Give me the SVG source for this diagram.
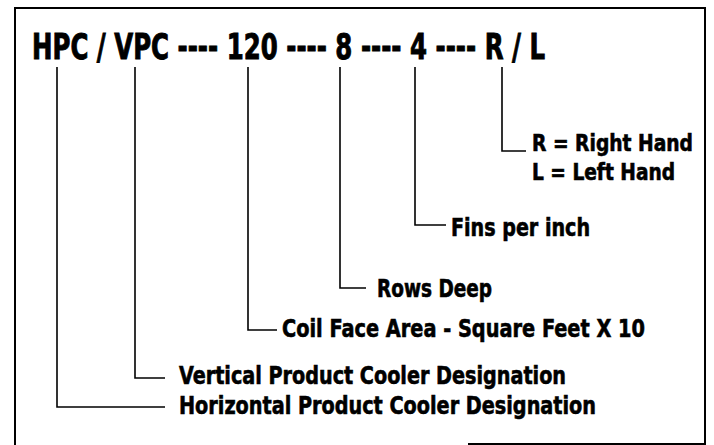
<svg xmlns="http://www.w3.org/2000/svg" width="714" height="445" viewBox="0 0 714 445">
<style>
.t{font-family:"Liberation Sans Narrow","DejaVu Sans Condensed","Liberation Sans",sans-serif;font-weight:bold;fill:#000;stroke:#000}
.lbl{font-size:25px;stroke-width:0.6}
.sm{font-size:23px}
.ttl{font-size:35px;stroke-width:0.9}
.c{fill:none;stroke:#000;stroke-width:1.6}
.b{fill:none;stroke:#000;stroke-width:2}
</style>
<rect width="714" height="445" fill="#fff"/>
<g id="border">
<path class="b" d="M15 445 V8 H705 V444 H468"/>
</g>
<g id="code">
<text class="t ttl" x="32" y="59" textLength="513" lengthAdjust="spacingAndGlyphs">HPC / VPC ---- 120 ---- 8 ---- 4 ---- R / L</text>
</g>
<g id="connectors">
<path class="c" d="M57 67 V407 H165"/>
<path class="c" d="M135 67 V378 H165"/>
<path class="c" d="M248 67 V330 H277"/>
<path class="c" d="M340 67 V288 H366"/>
<path class="c" d="M415 67 V225 H446"/>
<path class="c" d="M502 67 V151 H526"/>
</g>
<g id="hand">
<text class="t lbl sm" x="532" y="151" textLength="161" lengthAdjust="spacingAndGlyphs">R = Right Hand</text>
<text class="t lbl sm" x="532" y="180" textLength="143" lengthAdjust="spacingAndGlyphs">L = Left Hand</text>
</g>
<g id="fins">
<text class="t lbl" x="451" y="236" textLength="139" lengthAdjust="spacingAndGlyphs">Fins per inch</text>
</g>
<g id="rows">
<text class="t lbl" x="377" y="297" textLength="115" lengthAdjust="spacingAndGlyphs">Rows Deep</text>
</g>
<g id="area">
<text class="t lbl" x="282" y="337" textLength="363" lengthAdjust="spacingAndGlyphs">Coil Face Area - Square Feet X 10</text>
</g>
<g id="vpc">
<text class="t lbl" x="179" y="384" textLength="387" lengthAdjust="spacingAndGlyphs">Vertical Product Cooler Designation</text>
</g>
<g id="hpc">
<text class="t lbl" x="179" y="414" textLength="417" lengthAdjust="spacingAndGlyphs">Horizontal Product Cooler Designation</text>
</g>
</svg>
